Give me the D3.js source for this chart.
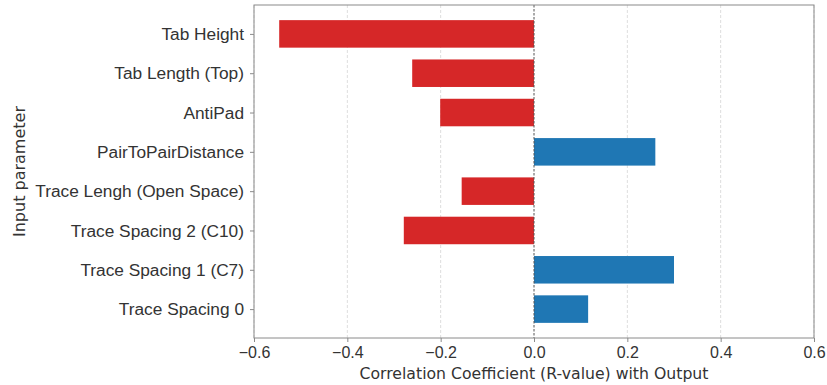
<!DOCTYPE html>
<html>
<head>
<meta charset="utf-8">
<script src="https://cdn.jsdelivr.net/npm/d3@7"></script>
<style>
  html, body { margin: 0; padding: 0; background: #fff; }
  svg { display: block; font-family: "DejaVu Sans", sans-serif; }
</style>
</head>
<body>
<svg id="chart" width="827" height="385"></svg>
<script>
// Input parameters, top to bottom
const parameters = [
  "Tab Height",
  "Tab Length (Top)",
  "AntiPad",
  "PairToPairDistance",
  "Trace Lengh (Open Space)",
  "Trace Spacing 2 (C10)",
  "Trace Spacing 1 (C7)",
  "Trace Spacing 0"
];
// Correlation coefficient of each parameter with the output
const rValues = [-0.546, -0.261, -0.201, 0.260, -0.155, -0.279, 0.300, 0.116];
const xTicks = [-0.6, -0.4, -0.2, 0.0, 0.2, 0.4, 0.6];

const svg = d3.select("#chart");
const plot = { left: 254, right: 814, top: 5, bottom: 338 };
const barHeight = 0.7;
const textColor = "#333";

const x = d3.scaleLinear().domain([-0.6, 0.6]).range([plot.left, plot.right]);
const y = d3.scaleLinear()
  .domain([-0.735, parameters.length - 1 + 0.735])
  .range([plot.top, plot.bottom]);

// vertical grid
svg.append("g").selectAll("line").data(xTicks.filter(t => t !== 0)).join("line")
  .attr("x1", d => x(d)).attr("x2", d => x(d))
  .attr("y1", plot.top).attr("y2", plot.bottom)
  .attr("stroke", "#d4d4d4").attr("stroke-width", 0.8)
  .attr("stroke-dasharray", "3,2");

// bars
svg.append("g").selectAll("rect").data(rValues).join("rect")
  .attr("x", d => x(Math.min(0, d)))
  .attr("width", d => Math.abs(x(d) - x(0)))
  .attr("y", (d, i) => y(i - barHeight / 2))
  .attr("height", y(barHeight) - y(0))
  .attr("fill", d => d < 0 ? "#d62728" : "#1f77b4");

// zero reference line
svg.append("line")
  .attr("x1", x(0)).attr("x2", x(0))
  .attr("y1", plot.top).attr("y2", plot.bottom)
  .attr("stroke", "#555").attr("stroke-width", 1)
  .attr("stroke-dasharray", "2.5,1.5");

// frame
svg.append("rect")
  .attr("x", plot.left).attr("y", plot.top)
  .attr("width", plot.right - plot.left).attr("height", plot.bottom - plot.top)
  .attr("fill", "none").attr("stroke", "#8a8a8a").attr("stroke-width", 1);

// x axis
const xAxis = svg.append("g")
  .attr("transform", `translate(0,${plot.bottom})`)
  .call(d3.axisBottom(x).tickValues(xTicks).tickSizeOuter(0).tickPadding(3)
    .tickFormat(d => d3.format(".1f")(d).replace("-", "\u2212")));
xAxis.select(".domain").remove();
xAxis.selectAll(".tick line").attr("stroke", "#8a8a8a").attr("y2", 4);
xAxis.selectAll(".tick text").attr("fill", textColor).attr("font-size", 16);

// y axis
const yAxis = svg.append("g")
  .attr("transform", `translate(${plot.left},0)`)
  .call(d3.axisLeft(y).tickValues(d3.range(parameters.length))
    .tickFormat(i => parameters[i]).tickSizeOuter(0).tickPadding(4));
yAxis.select(".domain").remove();
yAxis.selectAll(".tick line").attr("stroke", "#8a8a8a").attr("x2", -4);
yAxis.selectAll(".tick text").attr("fill", textColor).attr("font-size", 17.3);

// axis titles
svg.append("text")
  .attr("x", x(0)).attr("y", 379)
  .attr("text-anchor", "middle").attr("fill", textColor).attr("font-size", 15.7)
  .text("Correlation Coefficient (R-value) with Output");

svg.append("text")
  .attr("transform", `translate(25,${(plot.top + plot.bottom) / 2}) rotate(-90)`)
  .attr("text-anchor", "middle").attr("fill", textColor).attr("font-size", 16)
  .text("Input parameter");
</script>
</body>
</html>
